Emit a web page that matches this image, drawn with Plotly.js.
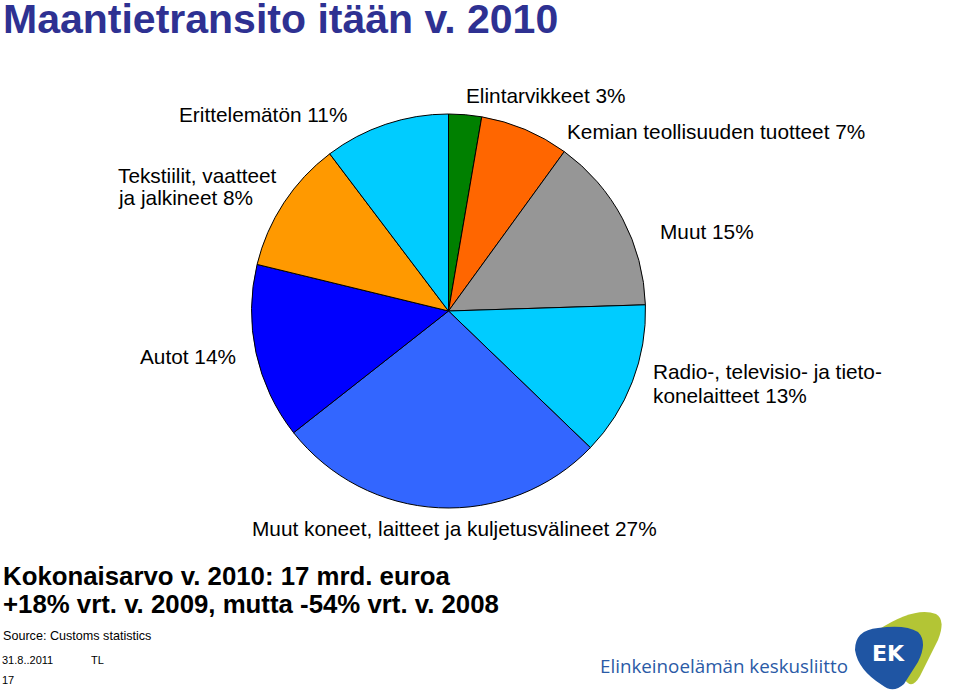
<!DOCTYPE html>
<html><head><meta charset="utf-8">
<script src="https://cdn.plot.ly/plotly-3.0.1.min.js"></script>
<style>html,body{margin:0;padding:0;background:#fff;}#chart{width:960px;height:700px;}</style>
</head><body><div id="chart"></div>
<script>
// Slice categories (clockwise from 12 o'clock)
const categories = [
  "Elintarvikkeet",
  "Kemian teollisuuden tuotteet",
  "Muut",
  "Radio-, televisio- ja tietokonelaitteet",
  "Muut koneet, laitteet ja kuljetusvälineet",
  "Autot",
  "Tekstiilit, vaatteet ja jalkineet",
  "Erittelemätön"
];
// Slice sizes (%)
const sliceValues = [2.7, 7.3, 14.5, 12.7, 27.2, 14.4, 10.9, 10.3];
// Percentages printed on the labels
const labelPercents = [3, 7, 15, 13, 27, 14, 8, 11];
const sliceColors = ["#008000", "#FF6600", "#969696", "#00CCFF", "#3366FF", "#0000FF", "#FF9900", "#00CCFF"];

const titleText = "Maantietransito itään v. 2010";
const summaryLines = ["Kokonaisarvo v. 2010: 17 mrd. euroa", "+18% vrt. v. 2009, mutta -54% vrt. v. 2008"];
const sourceText = "Source: Customs statistics";
const footerDate = "31.8..2011";
const footerAuthor = "TL";
const pageNumber = "17";
const orgName = "Elinkeinoelämän keskusliitto";

const W = 960, H = 700;
const cx = 448.5, cy = 311, R = 197;
const FONT = "Liberation Sans, Arial, sans-serif";
const LS = 20.8;

const pie = {
  type: "pie",
  values: sliceValues,
  labels: categories,
  sort: false,
  direction: "clockwise",
  rotation: 0,
  textinfo: "none",
  hoverinfo: "label+percent",
  marker: {colors: sliceColors, line: {color: "#000000", width: 1}},
  domain: {x: [(cx - R) / W, (cx + R) / W], y: [1 - (cy + R) / H, 1 - (cy - R) / H]},
  showlegend: false
};
const dummy = {type: "scatter", x: [], y: [], showlegend: false, hoverinfo: "skip"};

function ann(text, x, y, size, opts) {
  return Object.assign({
    text: text, x: x, y: y, xref: "x", yref: "y",
    xanchor: "left", yanchor: "middle", showarrow: false,
    font: {family: FONT, size: size, color: "#000000"}
  }, opts || {});
}

const annotations = [
  ann("<b>" + titleText + "</b>", 1, 19, 41, {font: {family: FONT, size: 41, color: "#2E3192"}}),
  ann(categories[7] + " " + labelPercents[7] + "%", 177, 114, LS),
  ann(categories[0] + " " + labelPercents[0] + "%", 464, 95, LS),
  ann(categories[1] + " " + labelPercents[1] + "%", 565, 131, LS),
  ann("Tekstiilit, vaatteet", 116, 175, LS),
  ann("ja jalkineet " + labelPercents[6] + "%", 116, 197, LS),
  ann(categories[2] + " " + labelPercents[2] + "%", 658, 231, LS),
  ann(categories[5] + " " + labelPercents[5] + "%", 138, 356, LS),
  ann("Radio-, televisio- ja tieto-", 651, 371, LS),
  ann("konelaitteet " + labelPercents[3] + "%", 651, 395, LS),
  ann(categories[4] + " " + labelPercents[4] + "%", 250, 528, LS),
  ann("<b>" + summaryLines[0] + "</b>", 1, 576, 25.8),
  ann("<b>" + summaryLines[1] + "</b>", 1, 604, 25.8),
  ann(sourceText, 1, 636, 12.6),
  ann(footerDate, 0, 660, 11),
  ann(footerAuthor, 89, 660, 11),
  ann(pageNumber, 0, 680, 11),
  ann(orgName, 598, 666, 18.8, {font: {family: "Open Sans, sans-serif", size: 18.8, color: "#2A5AA6"}}),
  ann("<b>EK</b>", 888, 653, 22, {xanchor: "center", font: {family: "DejaVu Sans, sans-serif", size: 22, color: "#ffffff"}})
];

const shapes = [
  {type: "path", xref: "x", yref: "y", layer: "above",
   path: "M 878 630 Q 915 606 936 614 Q 946 620 938 640 L 920 676 Q 912 690 905 680 Z",
   fillcolor: "#B3C535", line: {width: 0}},
  {type: "path", xref: "x", yref: "y", layer: "above",
   path: "M 855 650 Q 855 630 878 628 Q 905 624 918 632 Q 928 642 918 662 L 904 684 Q 893 694 882 685 Q 858 670 855 650 Z",
   fillcolor: "#1F55A3", line: {width: 0}}
];

const layout = {
  width: W, height: H,
  margin: {l: 0, r: 0, t: 0, b: 0},
  paper_bgcolor: "#ffffff", plot_bgcolor: "rgba(0,0,0,0)",
  xaxis: {range: [0, W], visible: false, domain: [0, 1], fixedrange: true},
  yaxis: {range: [H, 0], visible: false, domain: [0, 1], fixedrange: true},
  showlegend: false,
  annotations: annotations,
  shapes: shapes
};
Plotly.newPlot("chart", [pie, dummy], layout, {displayModeBar: false, staticPlot: true});
</script>
</body></html>
